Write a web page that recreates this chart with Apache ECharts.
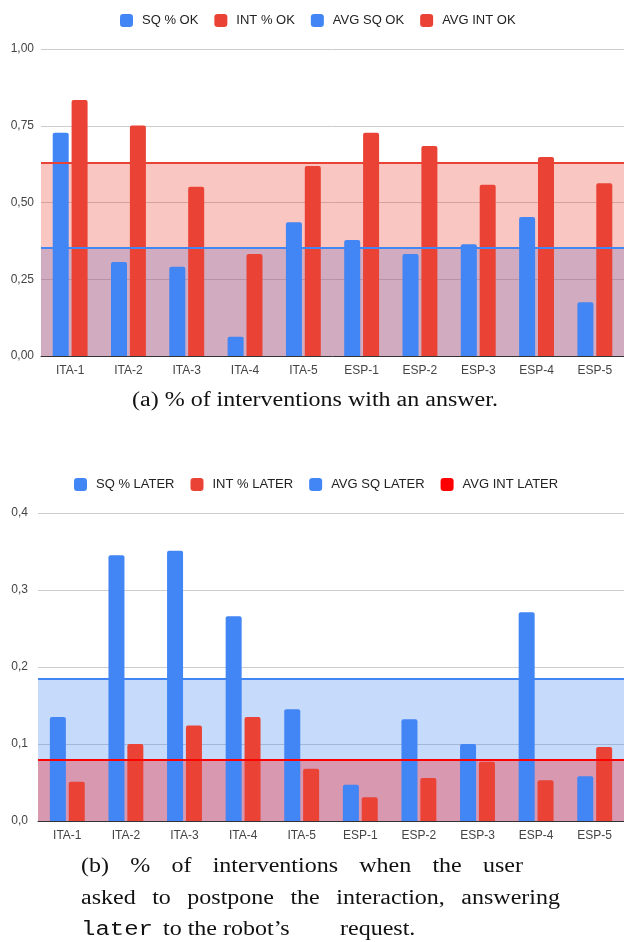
<!DOCTYPE html>
<html>
<head>
<meta charset="utf-8">
<script src="https://cdn.jsdelivr.net/npm/echarts@6/dist/echarts.min.js"></script>
<style>
  html, body { margin: 0; padding: 0; background: #fff; }
  #main { width: 624px; height: 942px; }
</style>
</head>
<body>
<div id="main"></div>
<script>
// categories shared by both charts
var users = ["ITA-1", "ITA-2", "ITA-3", "ITA-4", "ITA-5", "ESP-1", "ESP-2", "ESP-3", "ESP-4", "ESP-5"];

// (a) share of interventions with an answer
var sqOk = [0.727, 0.306, 0.291, 0.063, 0.436, 0.378, 0.332, 0.364, 0.453, 0.175];
var intOk = [0.834, 0.751, 0.551, 0.332, 0.619, 0.727, 0.684, 0.558, 0.648, 0.563];
var avgSqOk = 0.353;
var avgIntOk = 0.628;

// (b) share of interventions answered "later"
var sqLater = [0.135, 0.345, 0.351, 0.266, 0.145, 0.047, 0.132, 0.100, 0.271, 0.058];
var intLater = [0.051, 0.100, 0.124, 0.135, 0.068, 0.031, 0.056, 0.077, 0.053, 0.096];
var avgSqLater = 0.185;
var avgIntLater = 0.080;

// caption lines
var captionA = "(a) % of interventions with an answer.";
var captionB1 = ["(b)", "%", "of", "interventions", "when", "the", "user"];
var captionB2 = ["asked", "to", "postpone", "the", "interaction,", "answering"];

var BLUE = "#4285f4";
var RED = "#ea4335";
var PURE_RED = "#ff0000";
var SERIF = "20px 'Liberation Serif'";
var STRETCH = 1.2; // the source figure is stretched sideways

var myChart = echarts.init(document.getElementById("main"));

function barSeries(name, data, color, idx) {
  return {
    name: name,
    type: "bar",
    xAxisIndex: idx,
    yAxisIndex: idx,
    data: data,
    barWidth: 16,
    barGap: "18%",
    z: 2,
    itemStyle: { color: color, borderRadius: [2, 2, 0, 0] }
  };
}

// average drawn as a band from 0 plus a line on top
function avgArea(name, val, color, idx) {
  return {
    name: name + " band",
    type: "line",
    xAxisIndex: idx,
    yAxisIndex: idx,
    data: [],
    z: 1,
    silent: true,
    markArea: {
      silent: true,
      precision: 4,
      itemStyle: { color: color, opacity: 0.3 },
      data: [[{ yAxis: 0 }, { yAxis: val }]]
    }
  };
}
function avgLine(name, val, color, idx) {
  return {
    name: name,
    type: "line",
    xAxisIndex: idx,
    yAxisIndex: idx,
    data: [],
    z: 4,
    color: color,
    markLine: {
      silent: true,
      symbol: "none",
      animation: false,
      precision: 4,
      label: { show: false },
      lineStyle: { color: color, width: 2, type: "solid" },
      data: [{ yAxis: val }]
    }
  };
}

var labelFont = { color: "#444", fontSize: 12, fontFamily: "Liberation Sans" };

function xAxis(idx) {
  return {
    type: "category",
    gridIndex: idx,
    data: users,
    axisTick: { show: false },
    axisLine: { lineStyle: { color: "#333", width: 1 } },
    axisLabel: Object.assign({ margin: 9 }, labelFont)
  };
}
function yAxis(idx, max, step, digits) {
  return {
    type: "value",
    gridIndex: idx,
    min: 0,
    max: max,
    interval: step,
    axisLine: { show: false },
    axisTick: { show: false },
    splitLine: { lineStyle: { color: "#cccccc" } },
    axisLabel: Object.assign({
      margin: idx === 0 ? 7 : 10,
      formatter: function (v) { return v.toFixed(digits).replace(".", ","); }
    }, labelFont)
  };
}

function legend(left, top, names) {
  return {
    left: left,
    top: top,
    padding: 0,
    icon: "roundRect",
    itemWidth: 13,
    itemHeight: 13,
    itemGap: 16,
    data: names,
    textStyle: { color: "#222", fontSize: 13, fontFamily: "Liberation Sans", padding: [0, 0, 0, 4] }
  };
}

// spread words between two x positions, like justified text
var ctx = document.createElement("canvas").getContext("2d");
ctx.font = SERIF;
function justify(words, x0, x1, y) {
  var widths = words.map(function (w) { return ctx.measureText(w).width * STRETCH; });
  var total = widths.reduce(function (a, b) { return a + b; }, 0);
  var gap = (x1 - x0 - total) / (words.length - 1);
  var x = x0;
  return words.map(function (w, i) {
    var el = captionText(w, x, y, SERIF);
    x += widths[i] + gap;
    return el;
  });
}
function captionText(text, x, y, font) {
  return {
    type: "text", x: x, y: y, scaleX: STRETCH,
    style: { text: text, font: font, fill: "#111", verticalAlign: "middle" }
  };
}

var option = {
  animation: false,
  legend: [
    legend(120, 14, ["SQ % OK", "INT % OK", "AVG SQ OK", "AVG INT OK"]),
    legend(74, 478, ["SQ % LATER", "INT % LATER", "AVG SQ LATER", "AVG INT LATER"])
  ],
  grid: [
    { left: 41, top: 49, height: 307, right: -2 },
    { left: 38, top: 513, height: 308, right: -2 }
  ],
  xAxis: [xAxis(0), xAxis(1)],
  yAxis: [yAxis(0, 1, 0.25, 2), yAxis(1, 0.4, 0.1, 1)],
  series: [
    avgArea("AVG SQ OK", avgSqOk, BLUE, 0),
    avgArea("AVG INT OK", avgIntOk, RED, 0),
    barSeries("SQ % OK", sqOk, BLUE, 0),
    barSeries("INT % OK", intOk, RED, 0),
    avgLine("AVG SQ OK", avgSqOk, BLUE, 0),
    avgLine("AVG INT OK", avgIntOk, RED, 0),

    avgArea("AVG SQ LATER", avgSqLater, BLUE, 1),
    avgArea("AVG INT LATER", avgIntLater, PURE_RED, 1),
    barSeries("SQ % LATER", sqLater, BLUE, 1),
    barSeries("INT % LATER", intLater, RED, 1),
    avgLine("AVG SQ LATER", avgSqLater, BLUE, 1),
    avgLine("AVG INT LATER", avgIntLater, PURE_RED, 1)
  ],
  graphic: [captionText(captionA, 132, 401, SERIF)]
    .concat(justify(captionB1, 81, 523, 867))
    .concat(justify(captionB2, 81, 560, 899))
    .concat([
      captionText("later", 81, 930, "20px 'Liberation Mono'"),
      captionText("to the robot’s", 163, 930, SERIF),
      captionText("request.", 340, 930, SERIF)
    ])
};

myChart.setOption(option);
</script>
</body>
</html>
